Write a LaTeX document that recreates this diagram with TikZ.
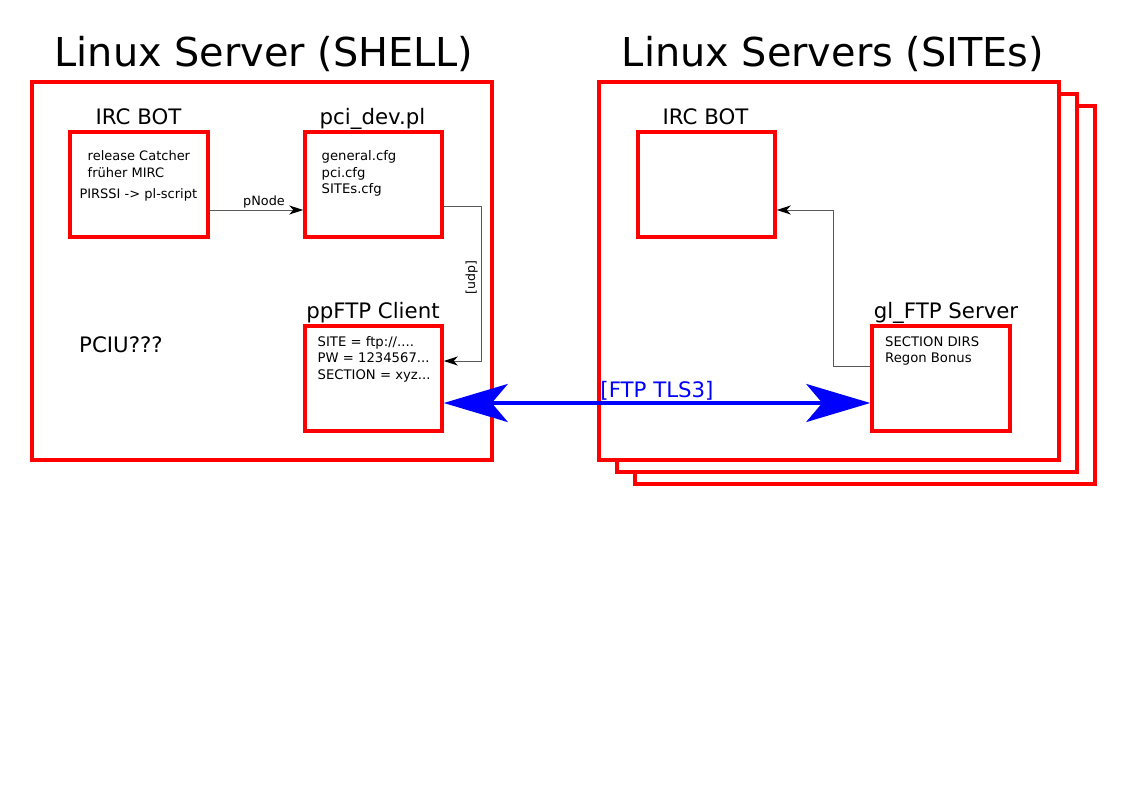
\documentclass[tikz,border=0pt]{standalone}
\usepackage{fontspec}
\setmainfont{DejaVu Sans}
\usetikzlibrary{arrows.meta}
\begin{document}
\begin{tikzpicture}[x=1pt,y=-1pt,
  box/.style={draw=red, line width=3.5pt, fill=white, inner sep=0pt},
  bigtitle/.style={anchor=base, inner sep=0pt, font=\fontsize{39.8}{48}\selectfont},
  boxtitle/.style={anchor=base, inner sep=0pt, font=\fontsize{21.3}{26}\selectfont},
  txt/.style={anchor=base west, inner sep=0pt, font=\fontsize{13.2}{16}\selectfont},
  ltxt/.style={anchor=base west, inner sep=0pt, font=\fontsize{13}{16}\selectfont},
  conn/.style={draw=black!65, line width=0.9pt, -{Stealth[length=14pt, width=9pt, inset=4pt, black]}},
  ftp/.style={draw=blue, line width=4pt, {Stealth[length=64pt, width=38pt, inset=16pt]}-{Stealth[length=64pt, width=38pt, inset=16pt]}}
]
\useasboundingbox (0,0) rectangle (1123,794);
\fill[white] (0,0) rectangle (1123,794);

% outer frames
\node[box, minimum width=460pt, minimum height=378pt] (shell) at (262,271) {};
\node[box, minimum width=460pt, minimum height=378pt] (sites3) at (865,295) {};
\node[box, minimum width=460pt, minimum height=378pt] (sites2) at (847,283) {};
\node[box, minimum width=460pt, minimum height=378pt] (sites) at (829,271) {};

\node[bigtitle] (shelltitle) at (264,67) {Linux Server (SHELL)};
\node[bigtitle] (sitestitle) at (833,67) {Linux Servers (SITEs)};

% inner boxes
\node[box, minimum width=138pt, minimum height=105pt] (ircbot) at (139,184.5) {};
\node[box, minimum width=137pt, minimum height=105pt] (pcidev) at (373.5,184.5) {};
\node[box, minimum width=137pt, minimum height=105pt] (ppftp) at (373.5,378.5) {};
\node[box, minimum width=137pt, minimum height=105pt] (ircbot2) at (706.5,184.5) {};
\node[box, minimum width=138pt, minimum height=105pt] (glftp) at (941,378.5) {};

% box titles
\node[boxtitle] (t1) at (138.5,125) {IRC BOT};
\node[boxtitle] (t2) at (372.5,125) {pci\_dev.pl};
\node[boxtitle] (t3) at (373,318.3) {ppFTP Client};
\node[boxtitle] (t4) at (705.5,125) {IRC BOT};
\node[boxtitle] (t5) at (946,318.3) {gl\_FTP Server};
\node[boxtitle, anchor=base west] (pciu) at (79,352) {PCIU???};

% box contents
\node[ltxt] (a1) at (87.5,161) {release Catcher};
\node[ltxt] (a2) at (87.5,177.3) {früher MIRC};
\node[ltxt] (a3) at (79.3,199) {PIRSSI -> pl-script};

\node[txt] (b1) at (321.5,161) {general.cfg};
\node[txt] (b2) at (321.5,177.5) {pci.cfg};
\node[txt] (b3) at (321.5,194) {SITEs.cfg};

\node[txt] (c1) at (317.5,346) {SITE = ftp://....};
\node[txt] (c2) at (317.5,362.5) {PW = 1234567...};
\node[txt] (c3) at (317.5,379) {SECTION = xyz...};

\node[txt] (d1) at (885,346) {SECTION DIRS};
\node[txt] (d2) at (885,362.3) {Regon Bonus};

% connectors
\draw[conn] ([yshift=-25.5pt]ircbot.east) -- node[pos=0.58, above, inner sep=1.5pt, font=\fontsize{12.8}{15}\selectfont] {pNode} ([yshift=-25.5pt]pcidev.east -| pcidev.west);

\coordinate (udpin) at ([yshift=17.5pt]ppftp.east);
\draw[conn] ([yshift=-21.5pt]pcidev.east) -- ++(37.5,0) coordinate (u1)
  -- node[pos=0.46, rotate=90, anchor=south, inner sep=3pt, font=\fontsize{12.5}{15}\selectfont] {[udp]} (u1 |- udpin) -- (udpin);

\coordinate (glout) at ([yshift=12.5pt]glftp.west);
\coordinate (ircin) at ([yshift=-25.5pt]ircbot2.east);
\draw[conn] (glout) -- ++(-37,0) coordinate (g1) -- (g1 |- ircin) -- (ircin);

\draw[ftp] ([yshift=-24.5pt]ppftp.east) -- node[above, inner sep=1pt, text=blue, font=\fontsize{21.3}{26}\selectfont] {[FTP TLS3]} ([yshift=-24.5pt]glftp.west);
\end{tikzpicture}
\end{document}
